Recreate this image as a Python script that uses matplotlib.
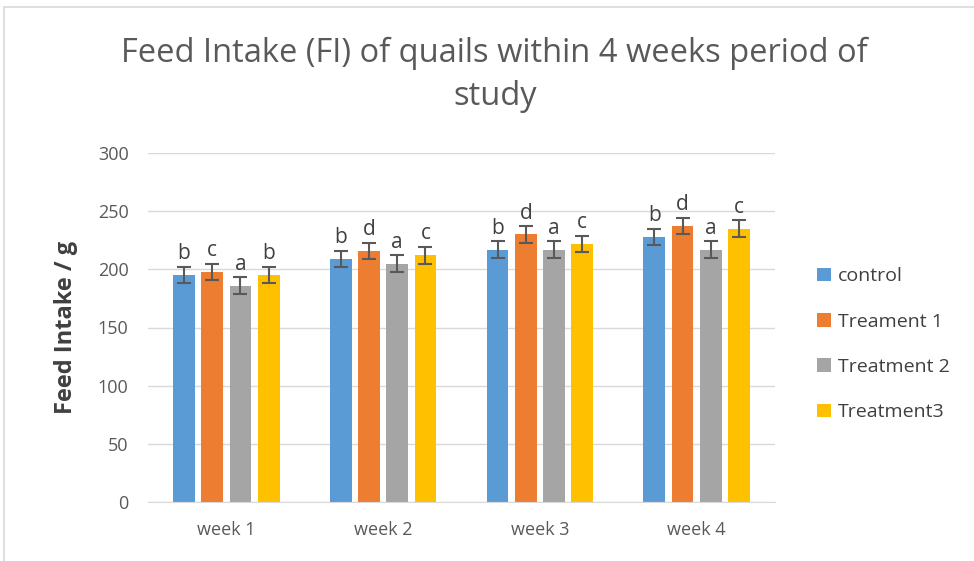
import numpy as np
import matplotlib.pyplot as plt
from matplotlib.patches import Rectangle

weeks = ['week 1', 'week 2', 'week 3', 'week 4']
series = ['control', 'Treament 1', 'Treatment 2', 'Treatment3']
control = [195, 209, 217, 228]
treat1 = [198, 216, 230, 237]
treat2 = [186, 205, 217, 217]
treat3 = [195, 212, 222, 235]
errors = [7, 7, 7, 7]
letters_control = ['b', 'b', 'b', 'b']
letters_t1 = ['c', 'd', 'd', 'd']
letters_t2 = ['a', 'a', 'a', 'a']
letters_t3 = ['b', 'c', 'c', 'c']

colors = ['#5B9BD5', '#ED7D31', '#A5A5A5', '#FFC000']
values = [control, treat1, treat2, treat3]
letters = [letters_control, letters_t1, letters_t2, letters_t3]

plt.rcParams['font.family'] = ['Open Sans', 'DejaVu Sans']

fig = plt.figure(figsize=(9.74, 5.61), dpi=100)
fig.patches.append(Rectangle((4 / 974, -0.1), 1.2, 1 - 7 / 561 + 0.1, transform=fig.transFigure,
                             fill=False, edgecolor='#D9D9D9', linewidth=1.2))
ax = fig.add_axes([148 / 974, 1 - 502 / 561, 627 / 974, 349 / 561])

x = np.arange(len(weeks))
width = 0.138
step = 0.18
for i, (vals, col, name) in enumerate(zip(values, colors, series)):
    pos = x + (i - 1.5) * step
    ax.bar(pos, vals, width, color=col, label=name, zorder=2)
    ax.errorbar(pos, vals, yerr=errors, fmt='none', ecolor='#595959', elinewidth=1.5,
                capsize=5, capthick=1.5, zorder=3)
    for p, v, e, l in zip(pos, vals, errors, letters[i]):
        ax.annotate(l, (p, v + e), xytext=(0, 2), textcoords='offset points',
                    ha='center', va='bottom', fontsize=15, color='#404040')

ax.set_xlim(-0.5, 3.5)
ax.set_ylim(0, 300)
ax.set_yticks(range(0, 301, 50))
ax.set_xticks(x)
ax.set_xticklabels(weeks)
ax.grid(axis='y', color='#D9D9D9', linewidth=1, zorder=0)
for s in ['top', 'right', 'left']:
    ax.spines[s].set_visible(False)
ax.spines['bottom'].set_color('#D9D9D9')
ax.tick_params(axis='y', length=0, labelsize=13, colors='#595959', pad=14)
ax.tick_params(axis='x', length=0, labelsize=13, colors='#595959', pad=14)
ax.set_ylabel('Feed Intake / g', fontsize=17, fontweight='bold', color='#404040', labelpad=14)

fig.text(0.508, 1 - 75 / 561, 'Feed Intake (FI) of quails within 4 weeks period of\nstudy',
         ha='center', va='center', fontsize=23.5, color='#595959', linespacing=1.42)

ax.legend(loc='center left', bbox_to_anchor=(1.039, 0.452), frameon=False, fontsize=14,
          labelcolor='#404040', handlelength=0.7, handleheight=0.7, labelspacing=1.41,
          handletextpad=0.4)

fig.savefig('out.png', dpi=100)
